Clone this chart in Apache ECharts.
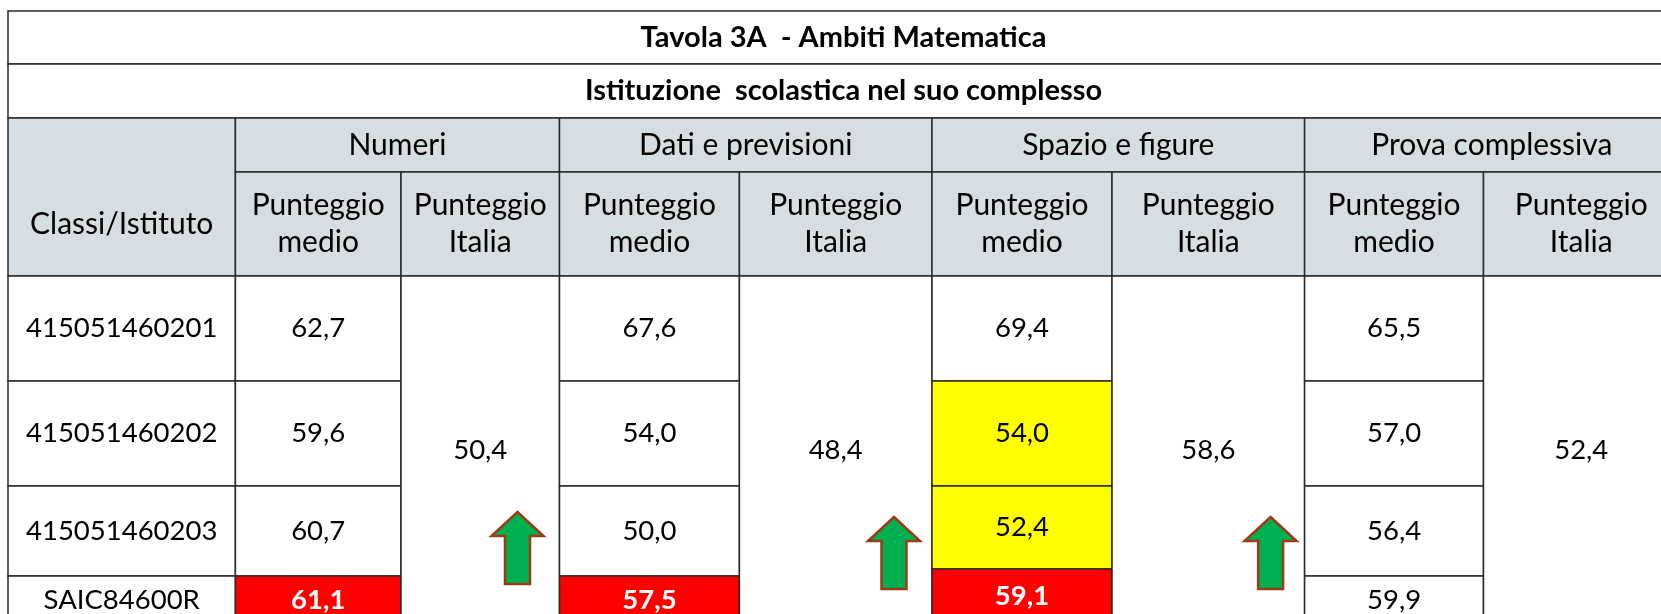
<!DOCTYPE html>
<html>
<head>
<meta charset="utf-8">
<script src="https://cdn.jsdelivr.net/npm/echarts@6/dist/echarts.min.js"></script>
<style>
html, body { margin: 0; padding: 0; background: #fff; }
#main { width: 1661px; height: 614px; }
</style>
</head>
<body>
<div id="main"></div>
<script>
// dati della tavola
var titolo = 'Tavola 3A  - Ambiti Matematica';
var sottotitolo = 'Istituzione  scolastica nel suo complesso';
var intestazioneClassi = 'Classi/Istituto';
var intestazioniPunteggio = ['Punteggio\nmedio', 'Punteggio\nItalia'];
var classi = ['415051460201', '415051460202', '415051460203', 'SAIC84600R'];
var ambiti = ['Numeri', 'Dati e previsioni', 'Spazio e figure', 'Prova complessiva'];
var numeri = [62.7, 59.6, 60.7, 61.1];
var datiPrevisioni = [67.6, 54.0, 50.0, 57.5];
var spazioFigure = [69.4, 54.0, 52.4, 59.1];
var provaComplessiva = [65.5, 57.0, 56.4, 59.9];
var punteggioItalia = [50.4, 48.4, 58.6, 52.4];
// evidenza delle celle: 0 nessuna, 1 gialla, 2 rossa (per ambito, per classe)
var evidenza = [[0, 0, 0, 2], [0, 0, 0, 2], [0, 1, 1, 2], [0, 0, 0, 0]];
// freccia di confronto nel punteggio Italia
var frecce = ['su', 'su', 'su', ''];

// layout (bordi di colonne e righe, in px della griglia)
var colEdges = [0, 227.4, 393, 551.5, 731.4, 924, 1104, 1296.6, 1475.5, 1671];
var rowEdges = [0, 53, 107, 161, 265, 370, 475, 565, 613];
var rowEdgesSpazio = rowEdges.slice();
rowEdgesSpazio[7] = 558;
var frecciaDx = [42, 38, 34];   // centro freccia dal bordo destro
var frecciaDy = [40, 35, 35];   // base freccia dal fondo della cella
var gridW = 1653, gridH = 603;  // parte visibile

var coloreHeader = '#d5dfe3';
var coloriEvidenza = ['#ffffff', '#ffff00', '#ff0000'];
var fontHeader = '30px Lato';
var fontNumeri = '27.5px Lato';
var fontTitolo = 'bold 29px Lato';

function fmt(v) {
    return v.toFixed(1).replace('.', ',');
}

var valori = [numeri, datiPrevisioni, spazioFigure, provaComplessiva];

// costruisco le celle
var celle = [];
function cella(c0, c1, y0, y1, testo, fill, colore, font, yTesto) {
    celle.push({
        value: [colEdges[c0], y0, colEdges[c1], y1, yTesto == null ? (y0 + y1) / 2 : yTesto],
        testo: testo,
        fill: fill || '#ffffff',
        colore: colore || '#000000',
        font: font || fontNumeri
    });
}

cella(0, 9, rowEdges[0], rowEdges[1], titolo, null, null, fontTitolo);
cella(0, 9, rowEdges[1], rowEdges[2], sottotitolo, null, null, fontTitolo);
cella(0, 1, rowEdges[2], rowEdges[4], intestazioneClassi, coloreHeader, null, fontHeader,
    (rowEdges[3] + rowEdges[4]) / 2);
for (var a = 0; a < ambiti.length; a++) {
    var c = 1 + a * 2;
    cella(c, c + 2, rowEdges[2], rowEdges[3], ambiti[a], coloreHeader, null, fontHeader);
    cella(c, c + 1, rowEdges[3], rowEdges[4], intestazioniPunteggio[0], coloreHeader, null, fontHeader);
    cella(c + 1, c + 2, rowEdges[3], rowEdges[4], intestazioniPunteggio[1], coloreHeader, null, fontHeader);
}
for (var i = 0; i < classi.length; i++) {
    cella(0, 1, rowEdges[4 + i], rowEdges[5 + i], classi[i]);
}
for (var a = 0; a < ambiti.length; a++) {
    var c = 1 + a * 2;
    var edges = a === 2 ? rowEdgesSpazio : rowEdges;
    for (var i = 0; i < classi.length; i++) {
        var ev = evidenza[a][i];
        cella(c, c + 1, edges[4 + i], edges[5 + i], fmt(valori[a][i]),
            coloriEvidenza[ev], ev === 2 ? '#ffffff' : '#000000',
            ev === 2 ? 'bold ' + fontNumeri : fontNumeri);
    }
    cella(c + 1, c + 2, rowEdges[4], rowEdges[8], fmt(punteggioItalia[a]));
}

var datiFrecce = [];
for (var a = 0; a < frecce.length; a++) {
    if (frecce[a] === 'su') {
        datiFrecce.push([colEdges[3 + a * 2] - frecciaDx[a], rowEdges[8] - frecciaDy[a]]);
    }
}

var myChart = echarts.init(document.getElementById('main'));
var option = {
    animation: false,
    grid: {
        left: 8,
        top: 11,
        width: gridW,
        height: gridH,
        outerBoundsMode: 'none'
    },
    xAxis: {
        type: 'value',
        min: 0,
        max: gridW,
        show: false
    },
    yAxis: {
        type: 'value',
        min: 0,
        max: gridH,
        inverse: true,
        show: false
    },
    series: [
        {
            type: 'custom',
            clip: false,
            data: celle.map(function (d) { return d.value; }),
            renderItem: function (params, api) {
                var d = celle[params.dataIndex];
                var p0 = api.coord([api.value(0), api.value(1)]);
                var p1 = api.coord([api.value(2), api.value(3)]);
                var pt = api.coord([api.value(0), api.value(4)]);
                return {
                    type: 'group',
                    children: [
                        {
                            type: 'rect',
                            shape: { x: p0[0], y: p0[1], width: p1[0] - p0[0], height: p1[1] - p0[1] },
                            style: { fill: d.fill, stroke: '#2a2a2a', lineWidth: 1.5 }
                        },
                        {
                            type: 'text',
                            style: {
                                text: d.testo,
                                x: (p0[0] + p1[0]) / 2,
                                y: pt[1],
                                align: 'center',
                                verticalAlign: 'middle',
                                font: d.font,
                                lineHeight: 37,
                                fill: d.colore
                            }
                        }
                    ]
                };
            }
        },
        {
            type: 'custom',
            clip: false,
            data: datiFrecce,
            renderItem: function (params, api) {
                var p = api.coord([api.value(0), api.value(1)]);
                var cx = p[0];
                var yb = p[1];
                return {
                    type: 'polygon',
                    shape: {
                        points: [
                            [cx, yb - 72], [cx + 26, yb - 48], [cx + 12.5, yb - 48],
                            [cx + 12.5, yb], [cx - 12.5, yb], [cx - 12.5, yb - 48],
                            [cx - 26, yb - 48]
                        ]
                    },
                    style: { fill: '#00b050', stroke: '#9c3b17', lineWidth: 2.5 }
                };
            }
        }
    ]
};
myChart.setOption(option);
</script>
</body>
</html>
